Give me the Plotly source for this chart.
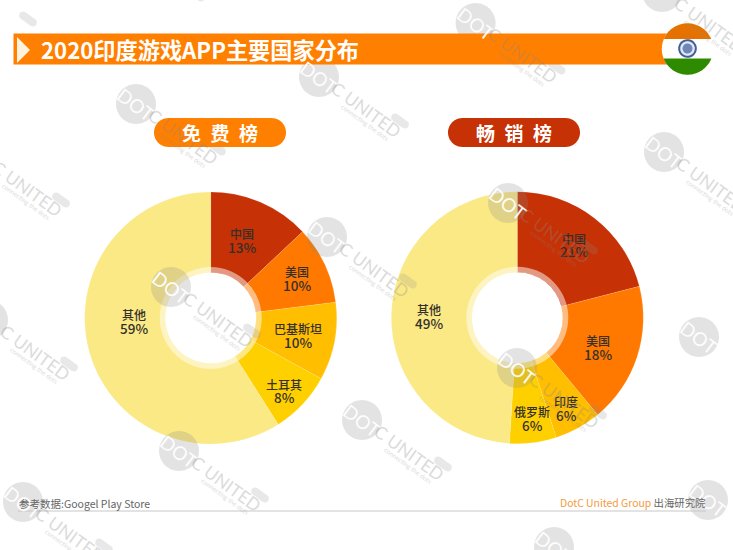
import numpy as np
import plotly.graph_objects as go

W, H = 733, 550
FONT = "Noto Sans CJK SC"

free_labels = ["中国", "美国", "巴基斯坦", "土耳其", "其他"]
free_values = [13, 10, 10, 8, 59]
free_colors = ["#C63105", "#FF7800", "#FFBE00", "#FFD000", "#FAE985"]
free_label_xy = [(241.7, 240.3), (296.7, 277.8), (297.7, 335.5), (284, 390.7), (134.3, 321)]

paid_labels = ["中国", "美国", "印度", "俄罗斯", "其他"]
paid_values = [21, 18, 6, 6, 49]
paid_colors = ["#C63105", "#FF7800", "#FFBE00", "#FFD000", "#FAE985"]
paid_label_xy = [(574.3, 244.7), (598.3, 347), (566, 408), (532.3, 418), (428.7, 315.8)]

title_text = "2020印度游戏APP主要国家分布"
free_title = "免\u2002费\u2002榜"
paid_title = "畅\u2002销\u2002榜"
source_text = "参考数据:Googel Play Store"
credit_org = "DotC United Group"
credit_dept = "出海研究院"

watermarks = [(136, 104), (319, 77), (475.6, 23), (664, 152), (662, -8), (171, 287),
              (179, 451), (327, 237), (362, 420), (508, 203), (517, 368), (23, 502),
              (708, 500), (554, 547), (-20, 156), (-12, 320), (-53, -25), (699, 337), (115, -50)]


def poly(pts):
    return "M" + "L".join(f"{x:.2f},{y:.2f}" for x, y in pts) + "Z"


def arc(cx, cy, r, a0, a1, n=24):
    return [(cx + r * np.cos(a), cy + r * np.sin(a)) for a in np.linspace(a0, a1, n)]


def pill(x0, y0, x1, y1):
    r = (y1 - y0) / 2
    return poly(arc(x0 + r, y0 + r, r, np.pi / 2, 3 * np.pi / 2) + arc(x1 - r, y0 + r, r, -np.pi / 2, np.pi / 2))


def rotated_pill(cx, cy, length, thick, deg):
    t = np.radians(deg)
    d = (length - thick) / 2
    c, s = np.cos(t), np.sin(t)
    return poly(arc(cx - d * c, cy - d * s, thick / 2, t + np.pi / 2, t + 3 * np.pi / 2, 10)
                + arc(cx + d * c, cy + d * s, thick / 2, t - np.pi / 2, t + np.pi / 2, 10))


def band(cx, cy, r, y0, y1):
    a0 = np.arcsin(np.clip((y0 - cy) / r, -1, 1))
    a1 = np.arcsin(np.clip((y1 - cy) / r, -1, 1))
    return poly(arc(cx, cy, r, a0, a1) + arc(cx, cy, r, np.pi - a1, np.pi - a0))


def dom(cx, cy, r):
    return dict(x=[(cx - r) / W, (cx + r) / W], y=[1 - (cy + r) / H, 1 - (cy - r) / H])


def donut(labels, values, colors, cx, cy):
    return go.Pie(labels=labels, values=values, sort=False, direction="clockwise", rotation=0,
                  hole=45.5 / 126, domain=dom(cx, cy, 126),
                  marker=dict(colors=colors, line=dict(color="rgba(255,255,255,0.25)", width=0.5)),
                  textinfo="none", showlegend=False, hoverinfo="skip")


def halo(cx, cy):
    return go.Pie(values=[1], sort=False, hole=45.5 / 51, domain=dom(cx, cy, 51), textinfo="none",
                  marker=dict(colors=["rgba(255,255,255,0.5)"], line=dict(width=0)), showlegend=False, hoverinfo="skip")


fig = go.Figure()
fig.add_trace(go.Scatter(x=[0, W], y=[0, H], mode="none", showlegend=False, hoverinfo="skip"))
fig.add_trace(donut(free_labels, free_values, free_colors, 210.7, 318))
fig.add_trace(donut(paid_labels, paid_values, paid_colors, 517.3, 317.7))
fig.add_trace(halo(210.7, 318))
fig.add_trace(halo(517.3, 317.7))

shapes = []


def sh(path, fill, opacity=1):
    shapes.append(dict(type="path", path=path, fillcolor=fill, line=dict(width=0), xref="x", yref="y",
                       layer="above", opacity=opacity))


for cx, cy in watermarks:
    sh(poly(arc(cx, cy, 20, 0, 2 * np.pi, 40)), "#8C8C8C", opacity=0.24)
    sh(rotated_pill(cx + 81, cy + 44, 20, 8, 36), "#8C8C8C", opacity=0.2)

sh(poly([(13.5, 33.5), (668, 33.5), (668, 64.5), (13.5, 64.5)]), "#FF7F00")
sh(poly([(17, 37), (30, 50), (17, 63)]), "#FFF3E0")
sh(pill(154, 118, 286, 147), "#FF7F00")
sh(pill(448, 118, 580, 147), "#C63105")

fx, fy, fr = 687.5, 49, 25.7
sh(poly(arc(fx, fy, fr, 0, 2 * np.pi, 60)), "#FFFFFF")
sh(band(fx, fy, fr, fy - fr, 39), "#E57200")
sh(band(fx, fy, fr, 58.5, fy + fr), "#2E8B00")
sh(poly(arc(fx, fy - 0.5, 9.3, 0, 2 * np.pi, 40)), "#3F5F9F")
sh(poly(arc(fx, fy - 0.5, 7.3, 0, 2 * np.pi, 40)), "#E4E8F2")
sh(poly(arc(fx, fy - 0.5, 5, 0, 2 * np.pi, 30)), "#6F86B8")

annots = []


def txt(x, y, text, size, color, anchor="left", angle=0, opacity=1, family=FONT, weight=400):
    annots.append(dict(x=x, y=y, xref="x", yref="y", text=text, showarrow=False, xanchor=anchor, yanchor="middle",
                       font=dict(family=family, size=size, color=color, weight=weight), textangle=angle, opacity=opacity))


for labels, values, xy in [(free_labels, free_values, free_label_xy), (paid_labels, paid_values, paid_label_xy)]:
    for name, value, (x, y) in zip(labels, values, xy):
        txt(x, y - 6.7, name, 12, "#35302A", "center", weight=500)
        txt(x, y + 6.7, f"{value}%", 13.5, "#35302A", "center", weight=500)

for cx, cy in watermarks:
    txt(cx, cy, "DOT", 19, "#FFFFFF", "center", 37, 0.95, "Lato")
    txt(cx + 47, cy + 32, "C UNITED", 17.5, "#8C8C8C", "center", 36, 0.3, "Lato")
    txt(cx + 46, cy + 45, "connecting the dots", 6.5, "#8C8C8C", "center", 36, 0.3, "Lato")

txt(38.5, 49, f"<b>{title_text}</b>", 22.2, "#FFFFFF")
txt(220, 132.5, f"<b>{free_title}</b>", 19, "#FFFFFF", "center")
txt(514, 132.5, f"<b>{paid_title}</b>", 19, "#FFFFFF", "center")
txt(16.5, 503, source_text, 10.5, "#666666")
txt(708, 502, f"<span style='color:#F59A3C'>{credit_org}</span> {credit_dept}", 10.4, "#666666", "right")

shapes.append(dict(type="line", x0=18, x1=706, y0=511, y1=511, xref="x", yref="y", layer="above",
                   line=dict(color="#C8C8C8", width=1.2)))

fig.update_layout(width=W, height=H, margin=dict(l=0, r=0, t=0, b=0), paper_bgcolor="#FFFFFF", plot_bgcolor="#FFFFFF",
                  xaxis=dict(range=[0, W], visible=False, fixedrange=True, domain=[0, 1]),
                  yaxis=dict(range=[H, 0], visible=False, fixedrange=True, domain=[0, 1]),
                  shapes=shapes, annotations=annots, showlegend=False)
fig.write_html("out.html", config=dict(displayModeBar=False),
               post_script="document.body.style.margin='0';document.documentElement.style.overflow='hidden';")
